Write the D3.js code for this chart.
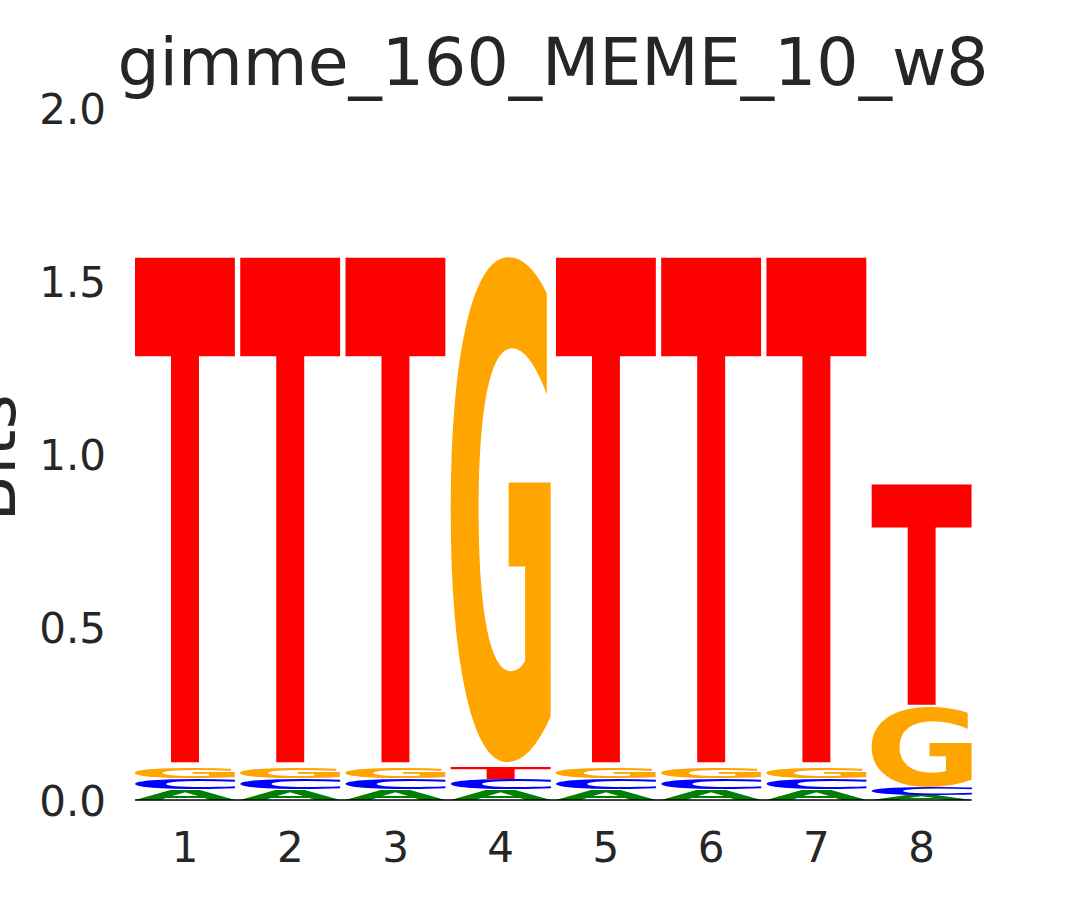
<!DOCTYPE html>
<html>
<head>
<meta charset="utf-8">
<script src="https://cdn.jsdelivr.net/npm/d3@7"></script>
<style>
  html, body { margin: 0; padding: 0; background: #ffffff; }
  svg { display: block; }
</style>
</head>
<body>
<svg id="chart" width="1080" height="900"></svg>
<script>
// ---- data (information content in bits, per position) ----
const positions = [1, 2, 3, 4, 5, 6, 7, 8];
const letters = ["A", "C", "G", "T"];
const valuesA = [0.030, 0.030, 0.030, 0.030, 0.030, 0.030, 0.030, 0.013];
const valuesC = [0.032, 0.032, 0.032, 0.030, 0.032, 0.032, 0.032, 0.022];
const valuesG = [0.032, 0.032, 0.032, 1.491, 0.032, 0.032, 0.032, 0.234];
const valuesT = [1.490, 1.490, 1.490, 0.033, 1.490, 1.490, 1.490, 0.650];
const yTicks = [0.0, 0.5, 1.0, 1.5, 2.0];
const titleText = "gimme_160_MEME_10_w8";
const yLabel = "Bits";

const colors = { A: "#008000", C: "#0000ff", G: "#ffa500", T: "#ff0000" };
const seriesByLetter = { A: valuesA, C: valuesC, G: valuesG, T: valuesT };

const svg = d3.select("#chart");
const textColor = "#262626";

const x = d3.scaleLinear().domain([0.5, 8.5]).range([132.4, 974.3]);
const y = d3.scaleLinear().domain([0, 2]).range([800, 108]);
const bandW = x(1.5) - x(0.5);
const glyphW = bandW * 0.95;

// measure ink bounds of glyphs by rasterizing them
const FS = 400;
const fontSpec = `bold ${FS}px 'DejaVu Sans'`;
const cnv = document.createElement("canvas");
cnv.width = 800; cnv.height = 800;
const ctx = cnv.getContext("2d");
const OX = 200, OY = 600;
const ink = {};
letters.forEach(l => {
  ctx.clearRect(0, 0, cnv.width, cnv.height);
  ctx.font = fontSpec;
  ctx.fillStyle = "#000";
  ctx.textBaseline = "alphabetic";
  ctx.fillText(l, OX, OY);
  const data = ctx.getImageData(0, 0, cnv.width, cnv.height).data;
  let minX = Infinity, maxX = -Infinity, minY = Infinity, maxY = -Infinity;
  for (let yy = 0; yy < cnv.height; yy++) {
    for (let xx = 0; xx < cnv.width; xx++) {
      if (data[(yy * cnv.width + xx) * 4 + 3] > 100) {
        if (xx < minX) minX = xx;
        if (xx > maxX) maxX = xx;
        if (yy < minY) minY = yy;
        if (yy > maxY) maxY = yy;
      }
    }
  }
  if (!isFinite(minX)) {
    const m = ctx.measureText(l);
    ink[l] = { L: -m.actualBoundingBoxLeft, R: m.actualBoundingBoxRight,
               asc: m.actualBoundingBoxAscent, desc: m.actualBoundingBoxDescent };
  } else {
    ink[l] = { L: minX - OX, R: maxX + 1 - OX, asc: OY - minY, desc: maxY + 1 - OY };
  }
});

// build stacked boxes
const boxes = [];
positions.forEach((p, i) => {
  const items = letters.map((l, k) => ({ l, v: seriesByLetter[l][i], k }));
  items.sort((a, b) => (a.v - b.v) || (a.k - b.k));
  let base = 0;
  items.forEach(it => {
    boxes.push({ pos: p, letter: it.l, y0: base, y1: base + it.v });
    base += it.v;
  });
});

const gLetters = svg.append("g");
boxes.forEach(b => {
  const top = y(b.y1), bottom = y(b.y0);
  const h = bottom - top;
  const pad = h * 0.01;
  const t = top + pad, bt = bottom - pad;
  const bx0 = x(b.pos) - glyphW / 2, bx1 = x(b.pos) + glyphW / 2;
  const g = ink[b.letter];
  const sx = (bx1 - bx0) / (g.R - g.L);
  const sy = (bt - t) / (g.asc + g.desc);
  gLetters.append("text")
    .attr("transform", `translate(${bx0},${t}) scale(${sx},${sy}) translate(${-g.L},${g.asc})`)
    .attr("font-family", "'DejaVu Sans'")
    .attr("font-weight", "bold")
    .attr("font-size", FS)
    .attr("fill", colors[b.letter])
    .text(b.letter);
});

// baseline
svg.append("line")
  .attr("x1", x(1) - glyphW / 2).attr("x2", x(8) + glyphW / 2)
  .attr("y1", y(0)).attr("y2", y(0))
  .attr("stroke", "#000").attr("stroke-width", 1.5);

// x tick labels
svg.append("g").selectAll("text").data(positions).join("text")
  .attr("x", d => x(d)).attr("y", 862)
  .attr("text-anchor", "middle")
  .attr("font-family", "'DejaVu Sans'").attr("font-size", 42)
  .attr("fill", textColor)
  .text(d => d);

// y tick labels
svg.append("g").selectAll("text").data(yTicks).join("text")
  .attr("x", 106).attr("y", d => y(d) + 15.5)
  .attr("text-anchor", "end")
  .attr("font-family", "'DejaVu Sans'").attr("font-size", 42)
  .attr("fill", textColor)
  .text(d => d.toFixed(1));

// y label
svg.append("text")
  .attr("transform", "translate(15,458) rotate(-90)")
  .attr("text-anchor", "middle")
  .attr("font-family", "'DejaVu Sans'").attr("font-size", 68)
  .attr("fill", textColor)
  .text(yLabel);

// title
svg.append("text")
  .attr("x", 553).attr("y", 85)
  .attr("text-anchor", "middle")
  .attr("font-family", "'DejaVu Sans'").attr("font-size", 66.5)
  .attr("fill", textColor)
  .text(titleText);
</script>
</body>
</html>
